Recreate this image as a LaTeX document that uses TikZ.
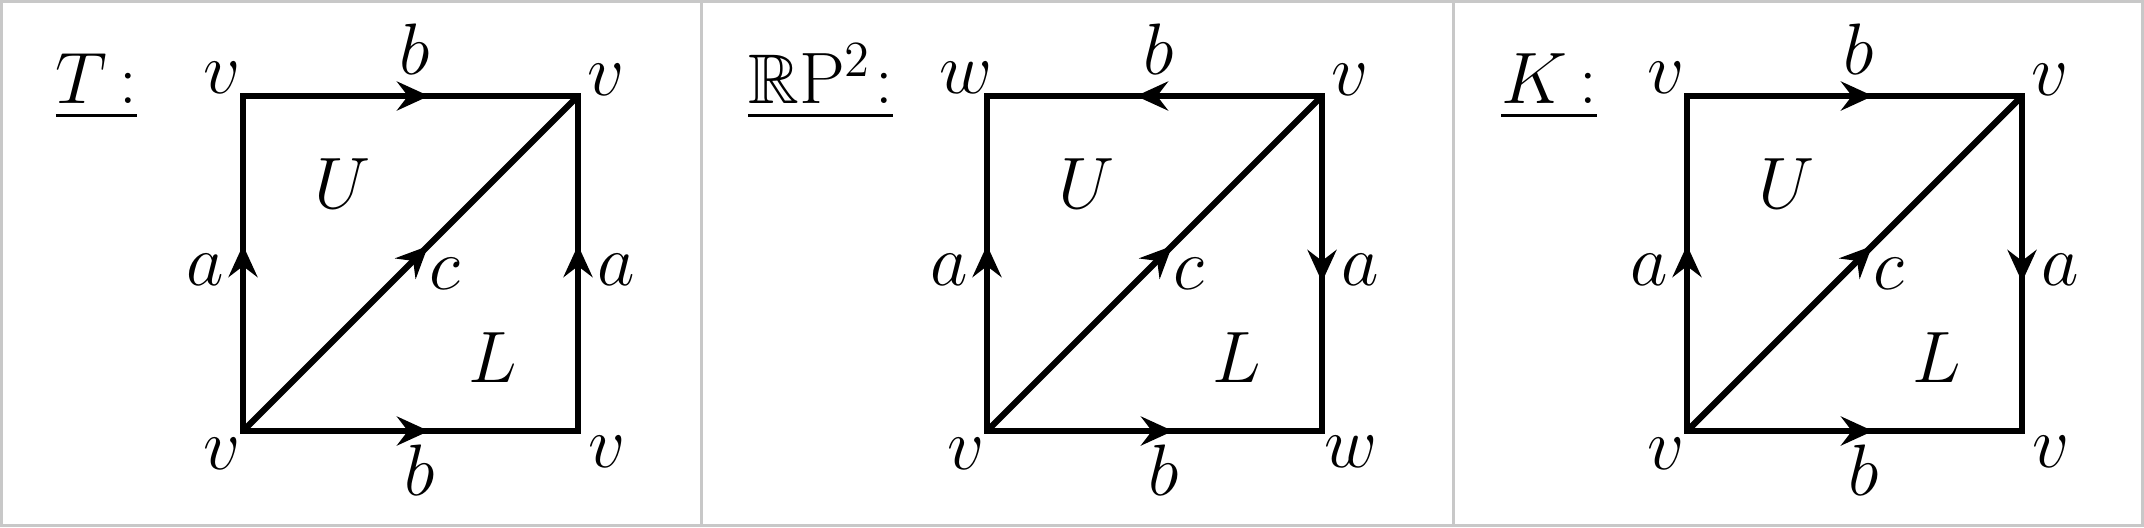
\documentclass[tikz,border=0pt]{standalone}
\usepackage{amsmath,amssymb}
\usepackage{tikz}
\usetikzlibrary{arrows.meta,decorations.markings}
\definecolor{ink}{HTML}{000000}
\definecolor{framegray}{HTML}{C8C8C8}
\newcommand{\heavyul}[1]{\vtop{\hbox{#1}\kern3pt\hrule height 1.1pt}}
\tikzset{
  gluearr/.style={draw=ink,line width=1.8pt,line cap=rect,postaction={decorate},
    decoration={markings,mark=at position 0.555 with
      {\arrow{Stealth[length=3.2mm,width=2.9mm,inset=1.1mm]}}}},
  diagarr/.style={gluearr,line cap=butt},
  frame/.style={draw=framegray,line width=0.03cm},
  lab/.style={inner sep=0pt,font=\fontsize{20}{24}\selectfont,text=ink},
  title/.style={lab,anchor=base}
}

\begin{document}
\begin{tikzpicture}[x=1cm,y=1cm]
    \path[use as bounding box] (0,0) rectangle (21.44,5.27);

    \draw[frame] (0.015,0.015) rectangle (21.425,5.255);
    \draw[frame] (7.015,0) -- (7.015,5.27);
    \draw[frame] (14.53,0) -- (14.53,5.27);

    % one glued square per space
    \foreach \k/\x/\tx/\ttl/\w/\ta/\tb/\ra/\rb in {
        1/2.43/-1.465/{\heavyul{$T$\,:}}/v/tl/tr/br/tr,
        2/9.87/-1.665/{\heavyul{$\mathbb{R}\mathrm{P}^2$\kern1pt:}}/w/tr/tl/tr/br,
        3/16.87/-1.38/{\heavyul{$K$\,:}}/v/tl/tr/tr/br}{
      \begin{scope}[xshift=\x cm]
        \coordinate (p\k-tl) at (0,4.31);
        \coordinate (p\k-tr) at (3.35,4.31);
        \coordinate (p\k-bl) at (0,0.96);
        \coordinate (p\k-br) at (3.35,0.96);
        \node[title] (p\k-name) at (\tx,4.24) {\ttl};

        \draw[gluearr] (p\k-\ta) -- (p\k-\tb);
        \draw[gluearr] (p\k-bl) -- (p\k-br);
        \draw[gluearr] (p\k-bl) -- (p\k-tl);
        \draw[gluearr] (p\k-\ra) -- (p\k-\rb);
        \draw[diagarr] (p\k-bl) -- (p\k-tr);

        \node[lab] (p\k-vtl) at (-0.21,4.49) {$\w$};
        \node[lab] (p\k-vtr) at (3.63,4.47) {$v$};
        \node[lab] (p\k-vbl) at (-0.21,0.73) {$v$};
        \node[lab] (p\k-vbr) at (3.64,0.75) {$\w$};
        \node[lab] (p\k-btop) at (1.72,4.78) {$b$};
        \node[lab] (p\k-bbot) at (1.77,0.57) {$b$};
        \node[lab] (p\k-aleft) at (-0.38,2.57) {$a$};
        \node[lab] (p\k-aright) at (3.73,2.57) {$a$};
        \node[lab] (p\k-c) at (2.02,2.53) {$c$};
        \node[lab] (p\k-up) at (1.0,3.43) {$U$};
        \node[lab] (p\k-low) at (2.5,1.69) {$L$};
      \end{scope}
    }
\end{tikzpicture}
\end{document}
